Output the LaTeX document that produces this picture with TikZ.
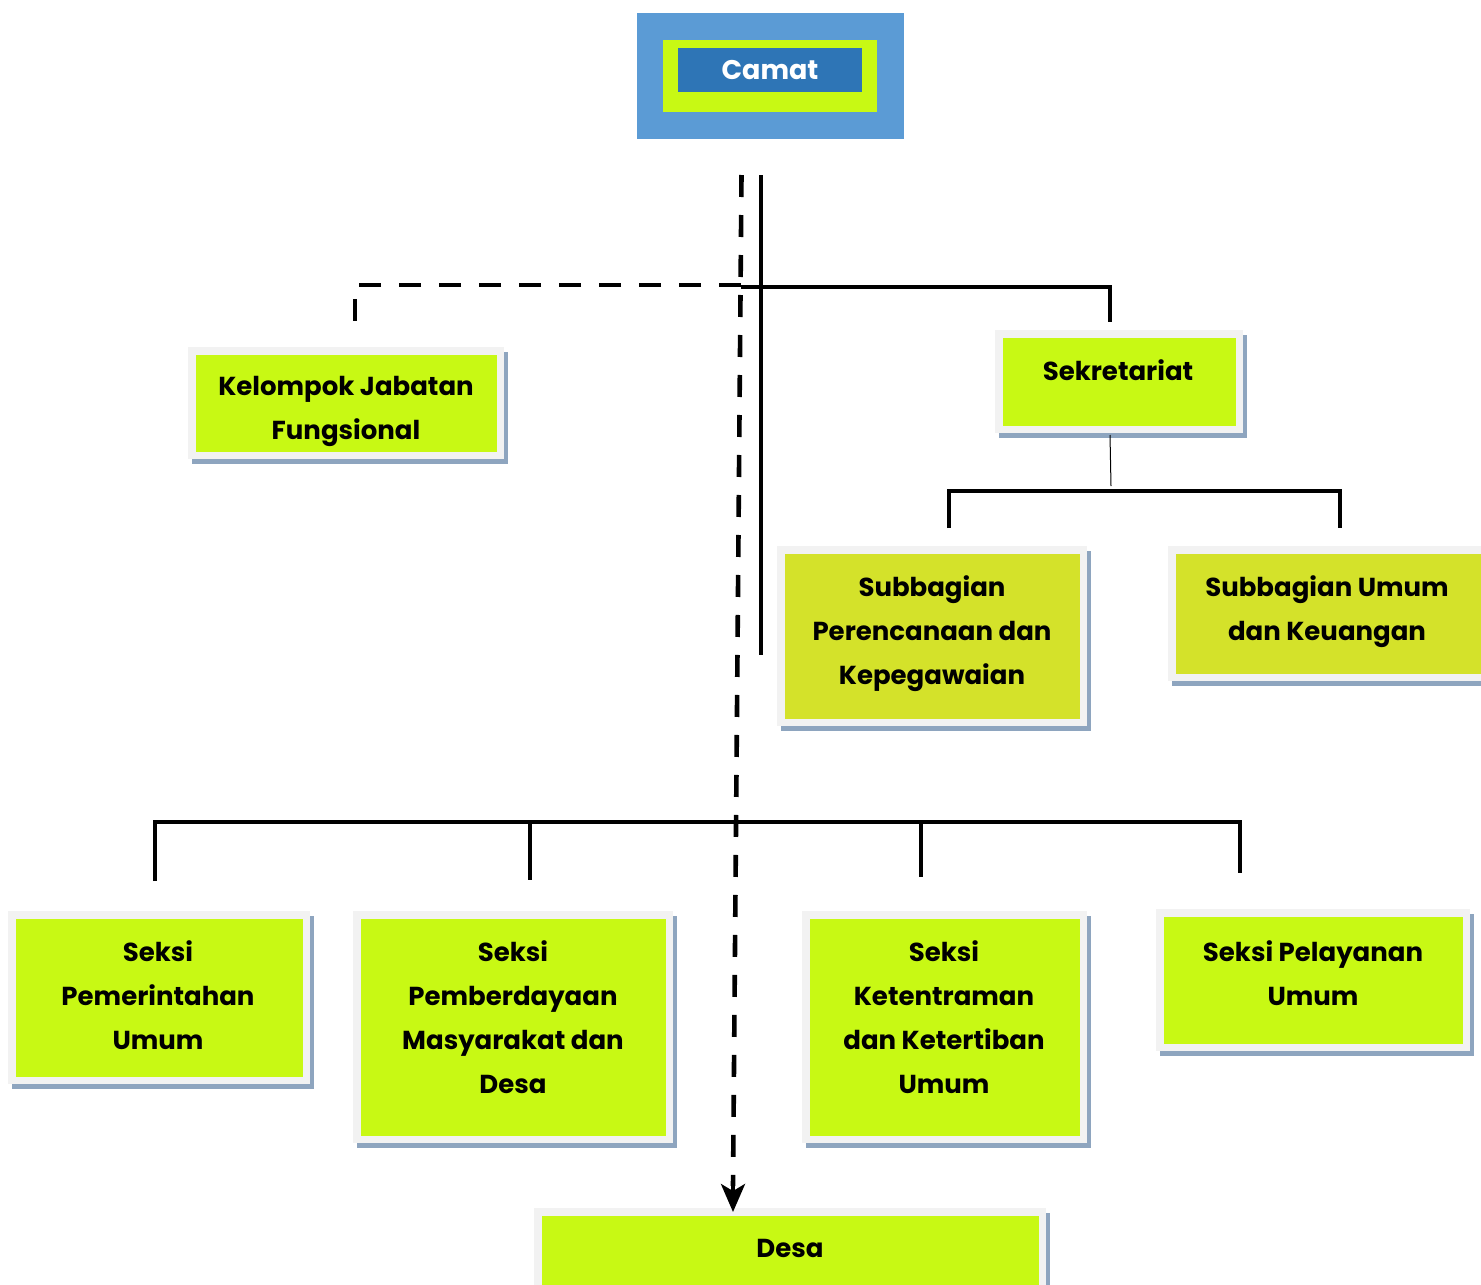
\documentclass[tikz,border=0pt]{standalone}
\usepackage{fontspec}
\setmainfont{Poppins}
\usetikzlibrary{arrows.meta,calc}
\definecolor{limefill}{HTML}{C8F914}
\definecolor{olivefill}{HTML}{D4E22A}
\definecolor{framec}{HTML}{F2F2F2}
\definecolor{shadowc}{HTML}{8EA5BF}
\definecolor{outerblue}{HTML}{5B9BD5}
\definecolor{innerblue}{HTML}{2E75B6}
\tikzset{
  txt/.style={font=\fontsize{26}{44}\selectfont\bfseries, align=center, inner sep=0pt, anchor=north},
  solidline/.style={line width=3.5pt},
  thinline/.style={line width=1pt},
  dashline/.style={line width=4.6pt, dash pattern=on 22pt off 18pt},
}
% name, x1, y1, x2, y2 (outer frame), fill colour
\newcommand\orgbox[6]{%
  \fill[shadowc] ({#2+4},{#3+5}) rectangle ({#4+4},{#5+5});
  \fill[framec] (#2,#3) rectangle (#4,#5);
  \node[fill=#6, inner sep=0pt, minimum width={#4-#2-15}, minimum height={#5-#3-15}]
    (#1) at ({(#2+#4)/2},{(#3+#5)/2}) {};
}
\begin{document}
\begin{tikzpicture}[x=1pt,y=-1pt]
\useasboundingbox (0,0) rectangle (1481,1285);

% Camat
\fill[outerblue] (637,13) rectangle (904,139);
\fill[limefill] (663,40) rectangle (877,112);
\node[fill=innerblue, minimum width=184, minimum height=44, inner sep=0pt,
      text=white, font=\fontsize{27}{30}\selectfont\bfseries] (camat) at (770,70) {Camat};

% boxes
\orgbox{kjf}{188}{347}{504}{459}{limefill}
\orgbox{sek}{995}{330}{1243}{433}{limefill}
\orgbox{sbp}{777}{546}{1087}{726}{olivefill}
\orgbox{sbu}{1168}{546}{1490}{681}{olivefill}
\orgbox{spu}{8}{911}{310}{1084}{limefill}
\orgbox{spm}{353}{911}{673}{1143}{limefill}
\orgbox{skt}{802}{911}{1087}{1143}{limefill}
\orgbox{spl}{1156}{909}{1470}{1051}{limefill}
\orgbox{desa}{534}{1208}{1046}{1292}{limefill}

% texts
\node[txt] (kjf-t) at (346,376) {Kelompok Jabatan\\Fungsional};
\node[txt] (sek-t) at (1118,359) {Sekretariat};
\node[txt] (sbp-t) at (932,575) {Subbagian\\Perencanaan dan\\Kepegawaian};
\node[txt] (sbu-t) at (1327,575) {Subbagian Umum\\dan Keuangan};
\node[txt] (spu-t) at (158,940) {Seksi\\Pemerintahan\\Umum};
\node[txt] (spm-t) at (513,940) {Seksi\\Pemberdayaan\\Masyarakat dan\\Desa};
\node[txt] (skt-t) at (944,940) {Seksi\\Ketentraman\\dan Ketertiban\\Umum};
\node[txt] (spl-t) at (1313,940) {Seksi Pelayanan\\Umum};
\node[txt] (desa-t) at (790,1239) {Desa};

% coordinates for connectors
\coordinate (stop) at (761,175);
\coordinate (sbot) at (761,655);
\coordinate (hj) at (741,287);
\coordinate (sekin) at (1110,322);
\coordinate (dtop) at (741.5,175);
\coordinate (dcorner) at (355,285);
\coordinate (kjfin) at (355,331);
\coordinate (sekout) at (1110,435);
\coordinate (sekjoin) at (1111,486);
\coordinate (bl) at (949,528);
\coordinate (br) at (1340,528);

% solid lines from Camat
\draw[solidline] (stop) -- (sbot);
\draw[solidline] (hj) -- (1110,287) -- (sekin);

% dashed lines
\draw[dashline] (dtop) -- (733,1186);
\draw[line width=4pt, -{Stealth[length=28pt,width=24pt,inset=7pt]}] (733,1184) -- (733,1212);
\draw[dashline] (741,285) -- (dcorner) -- (kjfin);

% sekretariat subtree
\draw[thinline] (sekout) -- (sekjoin);
\draw[solidline] (bl) -- (949,491) -- (1340,491) -- (br);

% bottom bracket
\draw[solidline] (155,881) -- (155,822) -- (1240,822) -- (1240,873);
\draw[solidline] (530,822) -- (530,880);
\draw[solidline] (921,822) -- (921,877);
\end{tikzpicture}
\end{document}
